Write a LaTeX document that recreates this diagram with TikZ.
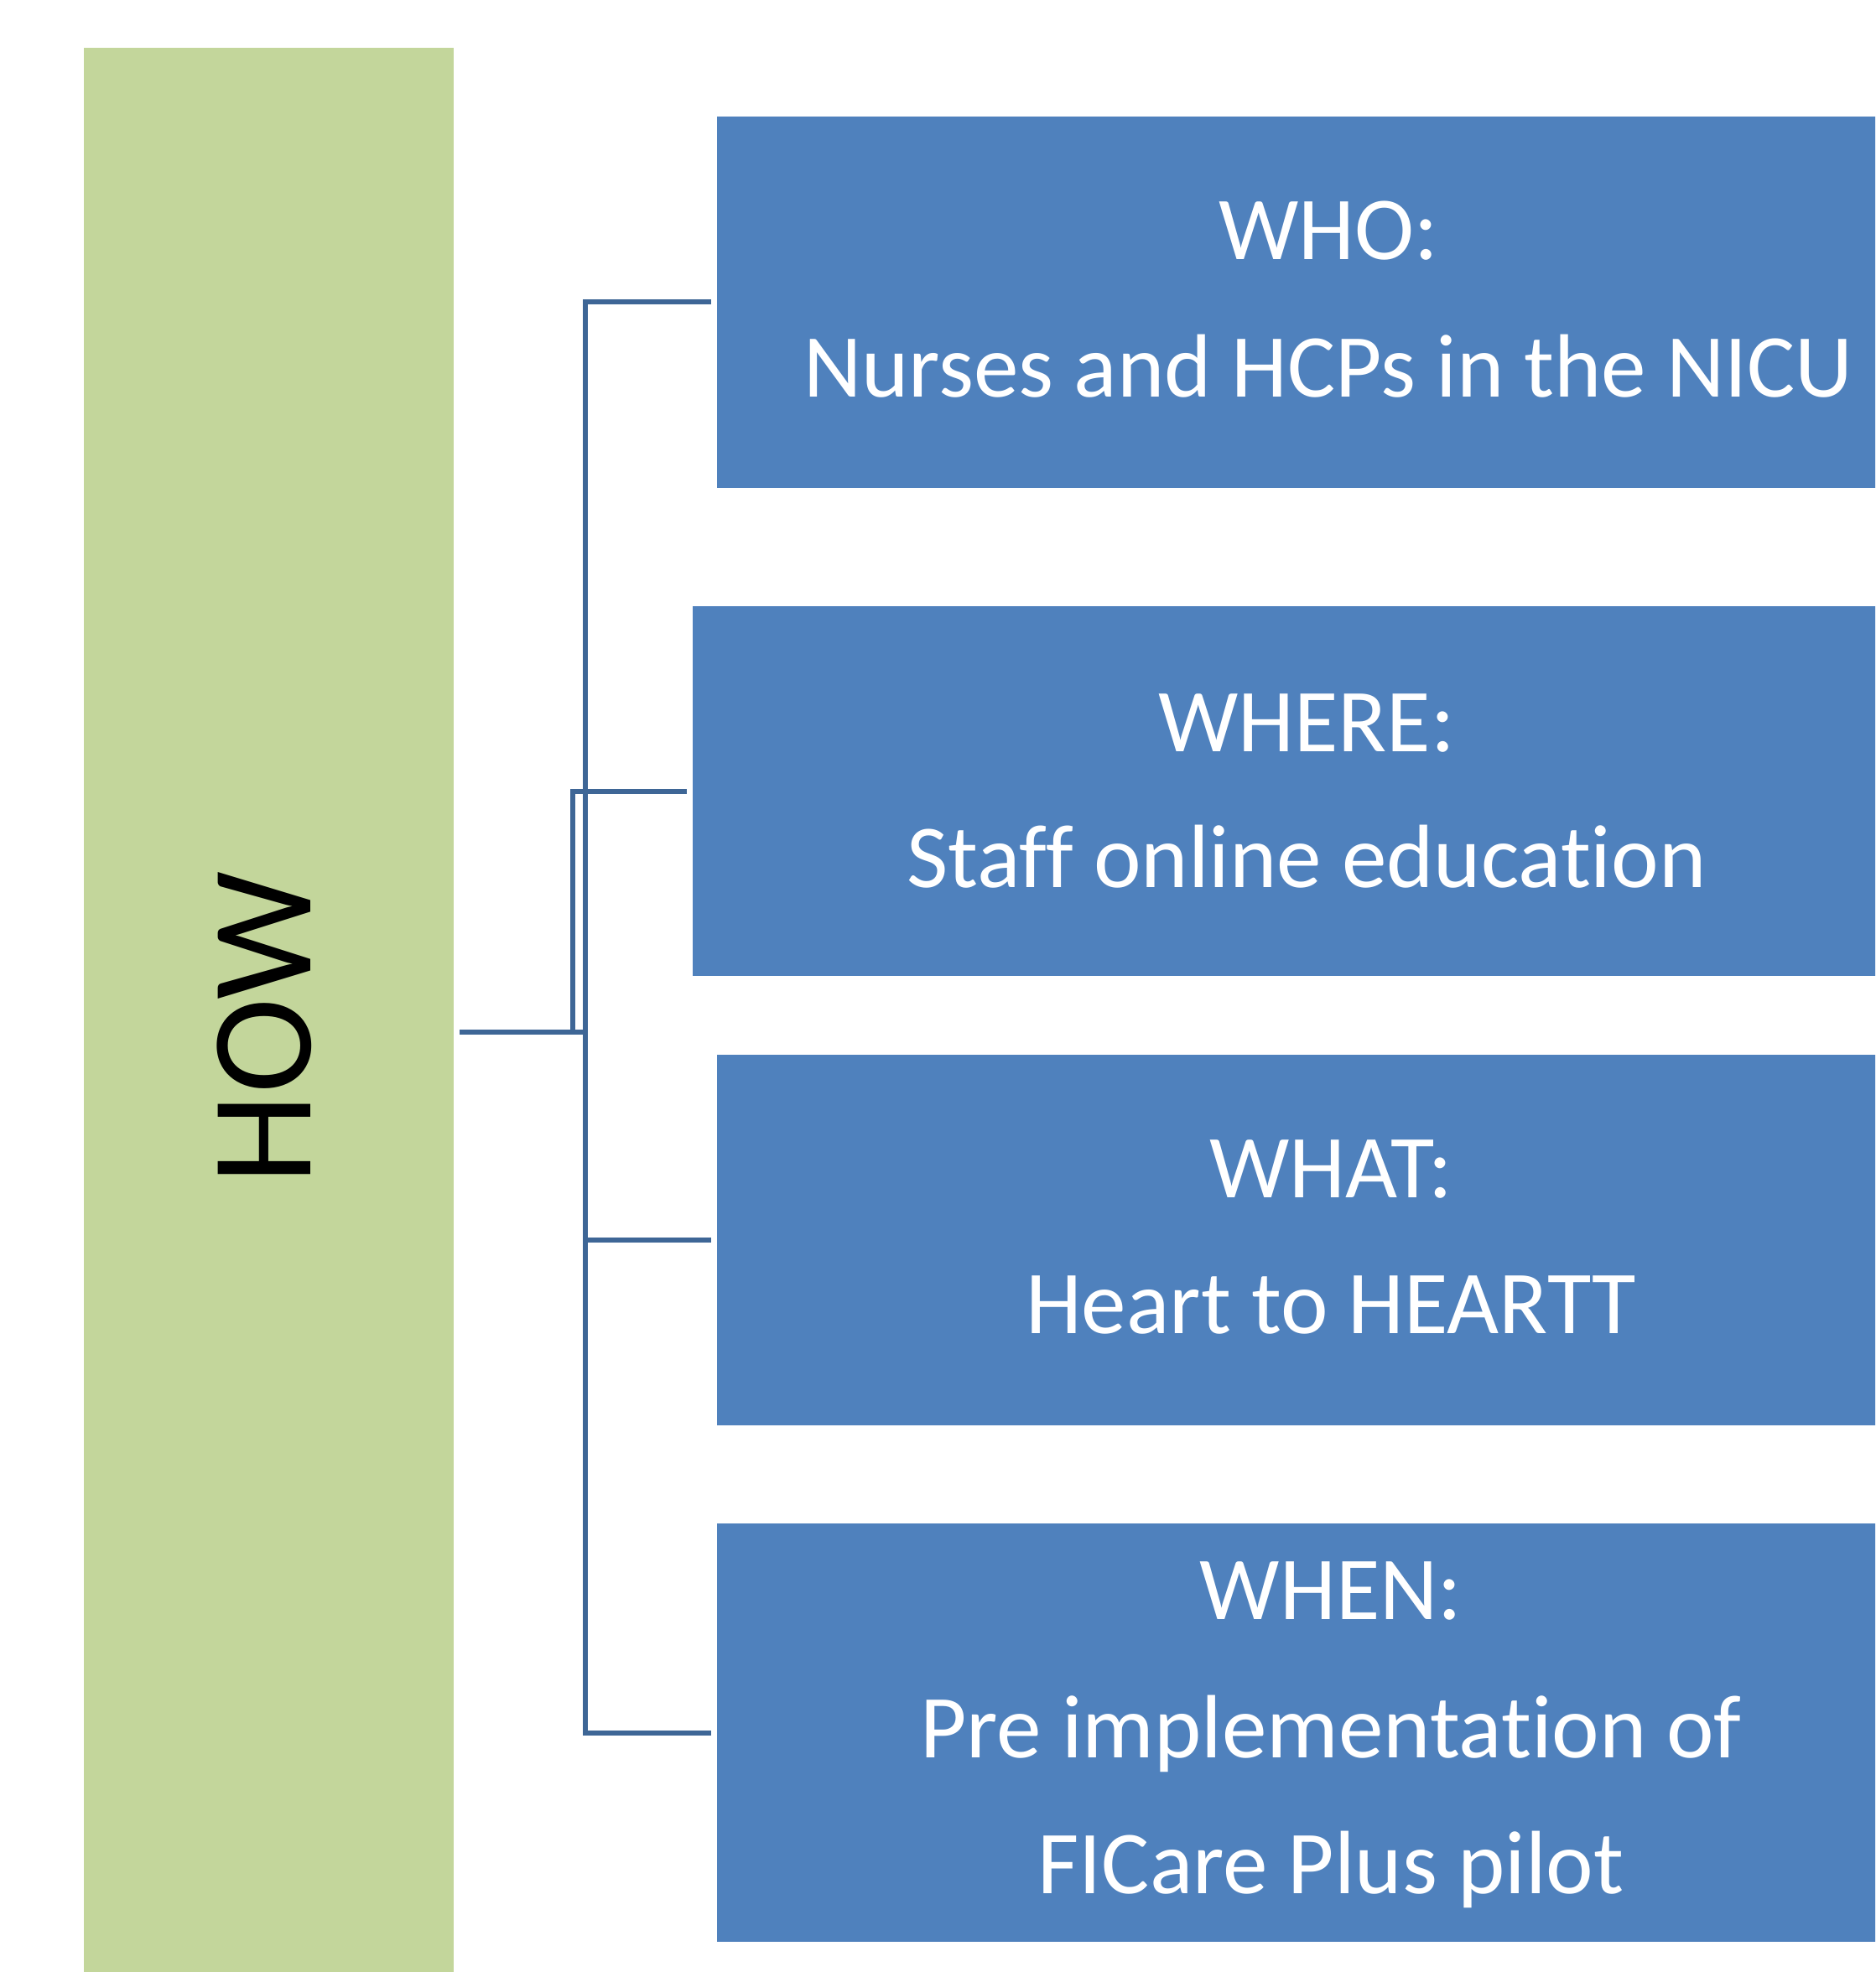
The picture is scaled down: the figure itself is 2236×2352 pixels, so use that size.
\documentclass[tikz,border=0pt]{standalone}
\usepackage{fontspec}
\setmainfont{Carlito}[Ligatures={NoCommon}]
\definecolor{boxblue}{HTML}{4F81BD}
\definecolor{howgreen}{HTML}{C3D69B}
\definecolor{connblue}{HTML}{3E6696}
\begin{document}
\begin{tikzpicture}[x=0.25pt,y=-0.25pt,
  bluebox/.style={rectangle,fill=boxblue,draw=none,inner sep=0pt},
  greenbox/.style={rectangle,fill=howgreen,draw=none,inner sep=0pt},
  lbl/.style={anchor=base,inner sep=0pt,text=white,font=\fontsize{26.8pt}{40pt}\selectfont},
  conn/.style={draw=connblue,line width=1.5pt}]
\useasboundingbox (0,0) rectangle (2236,2352);
\clip (0,0) rectangle (2236,2352);
\fill[white] (0,0) rectangle (2236,2352);
% HOW box
\node[greenbox,minimum width=110.25pt,minimum height=587pt] (how) at (320.5,1231) {};
\node[anchor=base,rotate=90,inner sep=0pt,font=\fontsize{43pt}{50pt}\selectfont] (howtxt) at (370,1226) {HOW};
% boxes
\node[bluebox,minimum width=364.5pt,minimum height=110.75pt] (who) at (1584,360.5) {};
\node[bluebox,minimum width=366pt,minimum height=110.25pt] (where) at (1558,943.5) {};
\node[bluebox,minimum width=366pt,minimum height=110.5pt] (what) at (1587,1479) {};
\node[bluebox,minimum width=366pt,minimum height=124.75pt] (when) at (1587,2066.5) {};
% texts
\node[lbl] (who1) at (1584,310) {WHO:};
\node[lbl] (who2) at (1584,474) {Nurses and HCPs in the NICU};
\node[lbl] (where1) at (1558,896) {WHERE:};
\node[lbl] (where2) at (1558,1058) {Staff online education};
\node[lbl] (what1) at (1587,1428) {WHAT:};
\node[lbl] (what2) at (1587,1590) {Heart to HEARTT};
\node[lbl] (when1) at (1587,1931) {WHEN:};
\node[lbl] (when2) at (1587,2096) {Pre implementation of};
\node[lbl] (when3) at (1587,2258) {FICare Plus pilot};
% connectors
\coordinate (spine) at (698,0);
\coordinate (spineb) at (683,0);
\draw[conn] ([xshift=1.5pt]how.east) -- (spine |- how.east);
\draw[conn,line cap=rect] (spine |- who.west) -- (spine |- when.west);
\draw[conn] (spine |- who.west) -- ([xshift=-1.5pt]who.west);
\draw[conn] (spine |- what.west) -- ([xshift=-1.5pt]what.west);
\draw[conn] (spine |- when.west) -- ([xshift=-1.5pt]when.west);
\draw[conn] (spineb |- how.east) -- (spineb |- where.west) -- ([xshift=-1.5pt]where.west);
\end{tikzpicture}
\end{document}
